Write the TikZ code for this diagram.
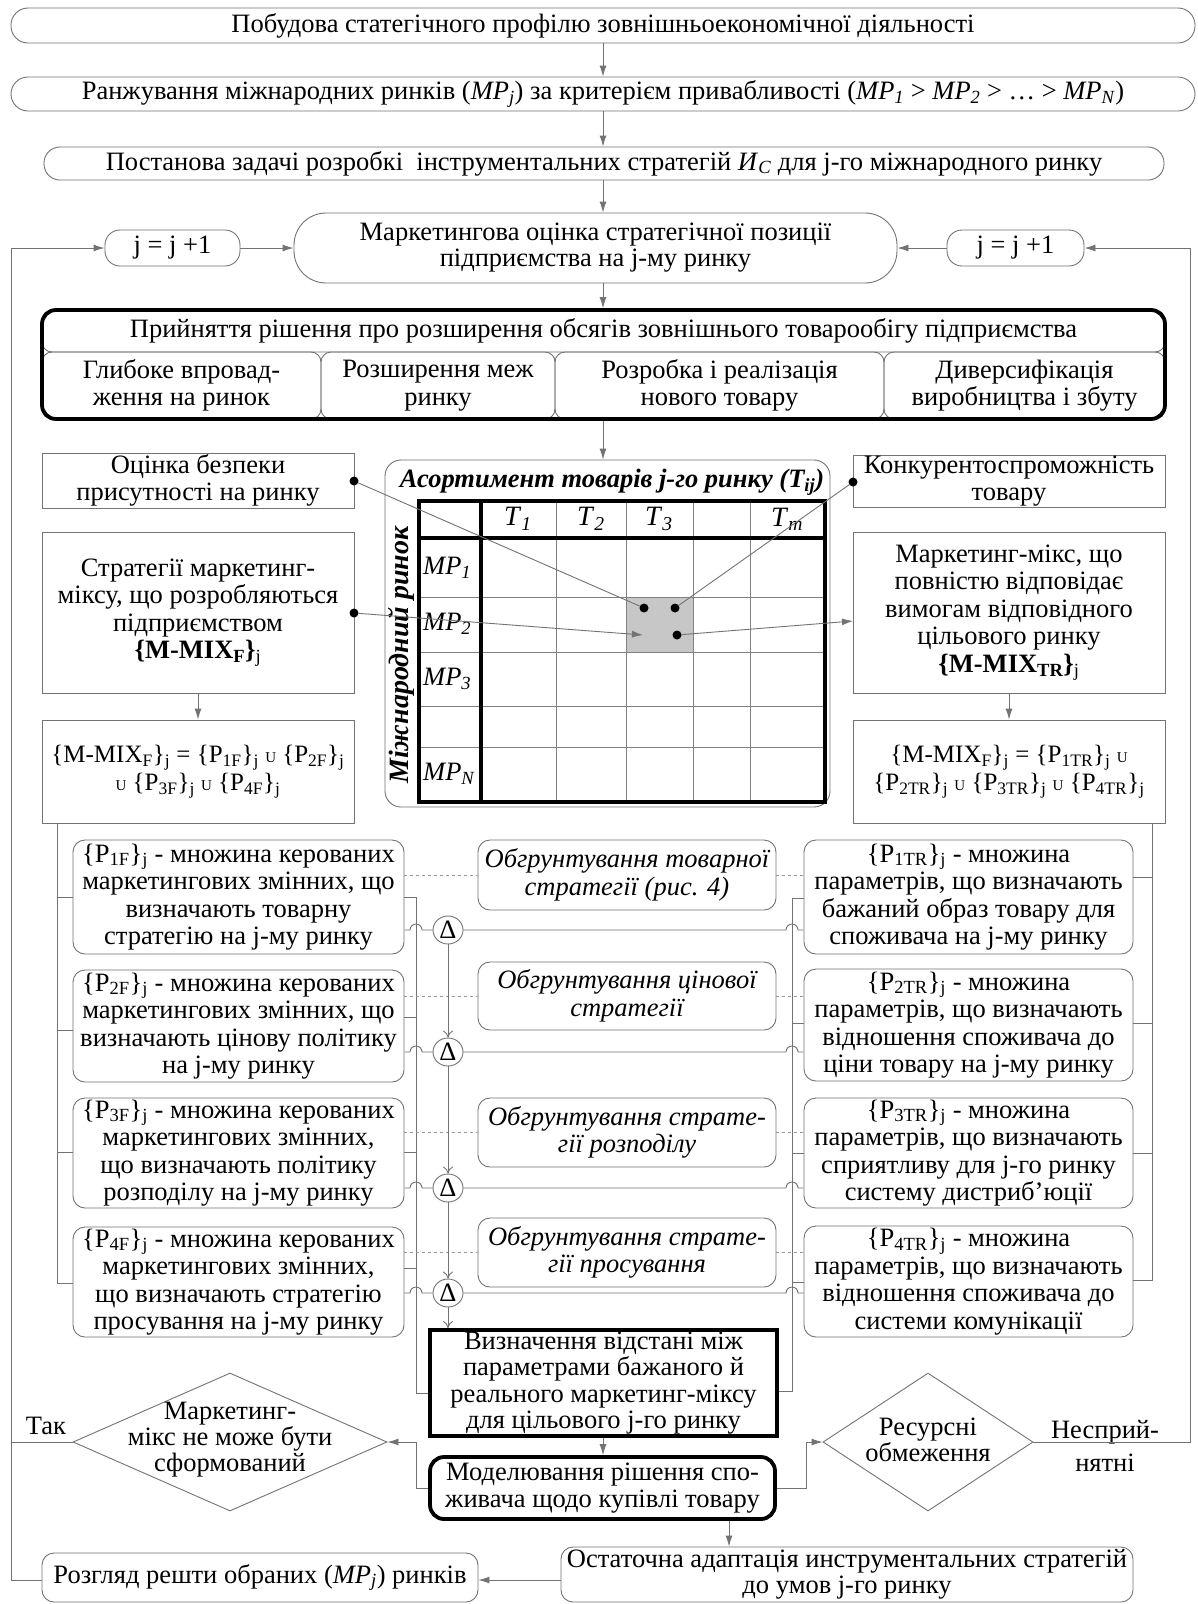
\documentclass[tikz,border=0pt]{standalone}
\usepackage{fontspec}
\setmainfont{Liberation Serif}
\usetikzlibrary{arrows.meta,shapes.geometric}
\newcommand\myU{{\fontsize{15}{15}\selectfont U}}
\newcommand\ts[1]{\textsubscript{#1}}
\newcommand\fsz{\fontsize{26.5}{27.5}\selectfont}
\begin{document}
\begin{tikzpicture}[x=1pt,y=-1pt,
  every node/.style={font=\fsz, align=center, inner sep=0pt},
  gl/.style={draw=black!55, line width=0.9pt},
  arr/.style={gl, -{Latex[length=11pt,width=7pt]}},
  varr/.style={gl, -{To[length=7pt,width=10pt]}},
  pbox/.style={gl, rounded corners=12pt},
  sbox/.style={gl},
  thickbox/.style={draw=black, line width=3.8pt},
  dot/.style={circle, fill=black, minimum size=9pt},
  dlt/.style={gl, ellipse, minimum width=30pt, minimum height=28pt},
  dia/.style={gl, diamond, minimum width=#1, minimum height=138pt},
  itx/.style={font=\fsz\itshape}
]
\fill[white] (0,0) rectangle (1197,1604);
\useasboundingbox (0,0) rectangle (1197,1604);

% top chain
\node[gl, rounded corners=17pt, minimum width=1184pt, minimum height=35pt] (n1) at (603,25.5)
  {Побудова статегічного профілю зовнішньоекономічної діяльності};
\node[gl, rounded corners=17pt, minimum width=1184pt, minimum height=34pt] (n2) at (603,94)
  {Ранжування міжнародних ринків (\textit{MP}\ts{\textit{j}}) за критерієм привабливості (\textit{MP}\ts{\textit{1}} > \textit{MP}\ts{\textit{2}} > \ldots{} > \textit{MP}\ts{\textit{N}})};
\node[gl, rounded corners=16pt, minimum width=1120pt, minimum height=33pt] (n3) at (604,163.5)
  {Постанова задачі розробкі\ \ інструментальних стратегій \textit{И}\ts{\textit{C}} для j-го міжнародного ринку};
\node[gl, rounded corners=32pt, minimum width=603pt, minimum height=70pt, font=\fontsize{26.5}{26}\selectfont] (n4) at (595.5,248)
  {Маркетингова оцінка стратегічної позиції\\підприємства на j-му ринку};
\node[gl, rounded corners=15pt, minimum width=135pt, minimum height=36pt] (jl) at (172.5,248) {j = j +1};
\node[gl, rounded corners=15pt, minimum width=137pt, minimum height=36pt] (jr) at (1015.5,248) {j = j +1};

% decision block
\node[gl, rounded corners=10pt, minimum width=1123pt, minimum height=42pt] (n5t) at (603.5,331)
  {Прийняття рішення про розширення обсягів зовнішнього товарообігу підприємства};
\node[gl, rounded corners=10pt, minimum width=279pt, minimum height=67pt] (s1) at (181.5,385.5) {Глибоке впровад-\\ження на ринок};
\node[gl, rounded corners=10pt, minimum width=234pt, minimum height=67pt] (s2) at (438,385.5) {Розширення меж\\ринку};
\node[gl, rounded corners=10pt, minimum width=329pt, minimum height=67pt] (s3) at (719.5,385.5) {Розробка і реалізація\\нового товару};
\node[gl, rounded corners=10pt, minimum width=281pt, minimum height=67pt] (s4) at (1024.5,385.5) {Диверсифікація\\виробництва і збуту};
\node[thickbox, rounded corners=14pt, minimum width=1123pt, minimum height=109pt] (n5) at (603.5,364.5) {};

% grid
\node[gl, rounded corners=16pt, minimum width=445pt, minimum height=347pt] (gf) at (607.5,633.5) {};
\node[font=\fsz\bfseries\itshape] (gt) at (612,482) {Асортимент товарів j-го ринку (T\ts{ij})};
\fill[black!22] (626,597) rectangle (693,652);
\draw[black!50, line width=0.8pt] (556,501)--(556,802) (626,501)--(626,802) (693,501)--(693,802) (750,501)--(750,802)
  (419,597)--(825,597) (419,652)--(825,652) (419,706)--(825,706) (419,747)--(825,747);
\draw[line width=3.8pt] (419,501) rectangle (825,802) (481,501)--(481,802) (419,538)--(825,538);
\node[font=\fontsize{28}{28}\selectfont\bfseries\itshape, rotate=90] (vl) at (401,655) {Міжнародний ринок};
\node[font=\fontsize{28}{28}\selectfont] (t1) at (518,519) {\textit{T}\ts{\textit{1}}};
\node[font=\fontsize{28}{28}\selectfont] (t2) at (591,519) {\textit{T}\ts{\textit{2}}};
\node[font=\fontsize{28}{28}\selectfont] (t3) at (659,519) {\textit{T}\ts{\textit{3}}};
\node[font=\fontsize{28}{28}\selectfont] (tm) at (787,519) {\textit{T}\ts{\textit{m}}};
\node[anchor=west] (r1) at (423,568) {\textit{MP}\ts{\textit{1}}};
\node[anchor=west] (r2) at (423,624) {\textit{MP}\ts{\textit{2}}};
\node[anchor=west] (r3) at (423,679) {\textit{MP}\ts{\textit{3}}};
\node[anchor=west] (rn) at (423,774) {\textit{MP}\ts{\textit{N}}};
\node[dot] (c1) at (644,608) {};
\node[dot] (c2) at (675,608) {};
\node[dot] (c4) at (677,635) {};
\coordinate (c3) at (643,635);

% left column
\node[sbox, minimum width=312pt, minimum height=55pt] (ob) at (198,480.5) {Оцінка безпеки\\присутності на ринку};
\node[sbox, minimum width=312pt, minimum height=161pt] (sm) at (198,612.5)
  {Стратегії маркетинг-\\міксу, що розробляються\\підприємством\\\textbf{\{M-MIX\ts{F}\}}\ts{j}};
\node[sbox, minimum width=312pt, minimum height=103pt, font=\fontsize{25}{28}\selectfont] (mixf) at (198,771.5)
  {\{M-MIX\ts{F}\}\ts{j} = \{P\ts{1F}\}\ts{j} \myU{} \{P\ts{2F}\}\ts{j}\\\myU{} \{P\ts{3F}\}\ts{j} \myU{} \{P\ts{4F}\}\ts{j}};
\node[dot] (obd) at (354,481) {};
\node[dot] (smd) at (354,613) {};

% right column
\node[sbox, minimum width=312pt, minimum height=52pt] (konk) at (1009,481) {Конкурентоспроможність\\товару};
\node[sbox, minimum width=312pt, minimum height=161pt] (mm) at (1009,612.5)
  {Маркетинг-мікс, що\\повністю відповідає\\вимогам відповідного\\цільового ринку\\\textbf{\{M-MIX\ts{TR}\}}\ts{j}};
\node[sbox, minimum width=312pt, minimum height=103pt, font=\fontsize{25}{28}\selectfont] (mixtr) at (1009,771.5)
  {\{M-MIX\ts{F}\}\ts{j} = \{P\ts{1TR}\}\ts{j} \myU\\\{P\ts{2TR}\}\ts{j} \myU{} \{P\ts{3TR}\}\ts{j} \myU{} \{P\ts{4TR}\}\ts{j}};
\node[dot] (kd) at (853,482) {};
\coordinate (mmin) at (853,621);

% P boxes
\node[pbox, minimum width=331pt, minimum height=114pt] (p1f) at (238.5,897)
  {\{P\ts{1F}\}\ts{j} - множина керованих\\маркетингових змінних, що\\визначають товарну\\стратегію на j-му ринку};
\node[pbox, minimum width=331pt, minimum height=112pt] (p2f) at (238.5,1026)
  {\{P\ts{2F}\}\ts{j} - множина керованих\\маркетингових змінних, що\\визначають цінову політику\\на j-му ринку};
\node[pbox, minimum width=331pt, minimum height=110pt] (p3f) at (238.5,1153)
  {\{P\ts{3F}\}\ts{j} - множина керованих\\маркетингових змінних,\\що визначають політику\\розподілу на j-му ринку};
\node[pbox, minimum width=331pt, minimum height=110pt] (p4f) at (238.5,1282)
  {\{P\ts{4F}\}\ts{j} - множина керованих\\маркетингових змінних,\\що визначають стратегію\\просування на j-му ринку};

\node[pbox, minimum width=329pt, minimum height=114pt] (p1t) at (968.5,897)
  {\{P\ts{1TR}\}\ts{j} - множина\\параметрів, що визначають\\бажаний образ товару для\\споживача на j-му ринку};
\node[pbox, minimum width=329pt, minimum height=112pt] (p2t) at (968.5,1025)
  {\{P\ts{2TR}\}\ts{j} - множина\\параметрів, що визначають\\відношення споживача до\\ціни товару на j-му ринку};
\node[pbox, minimum width=329pt, minimum height=110pt] (p3t) at (968.5,1153)
  {\{P\ts{3TR}\}\ts{j} - множина\\параметрів, що визначають\\сприятливу для j-го ринку\\систему дистриб’юції};
\node[pbox, minimum width=329pt, minimum height=111pt] (p4t) at (968.5,1281.5)
  {\{P\ts{4TR}\}\ts{j} - множина\\параметрів, що визначають\\відношення споживача до\\системи комунікації};

\node[pbox, itx, minimum width=298pt, minimum height=70pt] (m1) at (627,875) {Обгрунтування товарної\\стратегії (рис. 4)};
\node[pbox, itx, minimum width=298pt, minimum height=68pt] (m2) at (627,996) {Обгрунтування цінової\\стратегії};
\node[pbox, itx, minimum width=298pt, minimum height=69pt] (m3) at (627,1132.5) {Обгрунтування страте-\\гії розподілу};
\node[pbox, itx, minimum width=298pt, minimum height=69pt] (m4) at (627,1252.5) {Обгрунтування страте-\\гії просування};

\node[dlt] (d1) at (448,930) {Δ};
\node[dlt] (d2) at (448,1052) {Δ};
\node[dlt] (d3) at (448,1188) {Δ};
\node[dlt] (d4) at (448,1293) {Δ};

% bottom part
\node[thickbox, minimum width=347pt, minimum height=106pt, font=\fontsize{26.5}{26.5}\selectfont] (viz) at (603.5,1383)
  {Визначення відстані між\\параметрами бажаного й\\реального маркетинг-міксу\\для цільового j-го ринку};
\node[thickbox, rounded corners=14pt, minimum width=345pt, minimum height=62pt, font=\fontsize{26.5}{26.5}\selectfont] (mod) at (602.5,1488)
  {Моделювання рішення спо-\\живача щодо купівлі товару};
\node[dia=314pt] (dd1) at (230,1442) {};
\node[font=\fontsize{26.5}{26}\selectfont] (dd1t) at (230,1440) {Маркетинг-\\мікс не може бути\\сформований};
\node[dia=210pt] (dd2) at (928,1442) {};
\node[font=\fontsize{26.5}{26}\selectfont] (dd2t) at (928,1440) {Ресурсні\\обмеження};
\node (tak) at (46,1426) {Так};
\node (nes) at (1105,1446) {Несприй-\\[6pt]нятні};
\node[gl, rounded corners=12pt, minimum width=572pt, minimum height=55pt, font=\fontsize{26.5}{26.5}\selectfont] (ost) at (847,1574.5)
  {Остаточна адаптація инструментальних стратегій\\до умов j-го ринку};
\node[gl, rounded corners=12pt, minimum width=436pt, minimum height=49pt] (roz) at (260,1577.5)
  {Розгляд решти обраних (\textit{MP}\ts{\textit{j}}) ринків};

% ---- connectors ----
\draw[arr] (n1.south -| 603,0) -- (n2.north -| 603,0);
\draw[arr] (n2.south -| 603,0) -- (n3.north -| 603,0);
\draw[arr] (n3.south -| 603,0) -- (n4.north -| 603,0);
\draw[arr] (n4.south -| 603,0) -- (n5.north -| 603,0);
\draw[arr] (n5.south -| 603,0) -- (gf.north -| 603,0);
\draw[arr] (jl.east) -- (n4.west);
\draw[arr] (jr.west) -- (n4.east);

\draw[gl] (obd) -- (c1);
\draw[gl] (kd) -- (c2);
\draw[arr] (smd) -- (c3);
\draw[arr] (c4) -- (mmin);
\draw[arr] (sm.south) -- (mixf.north);
\draw[arr] (mm.south) -- (mixtr.north);

% outer left / right buses
\draw[gl] (mixf.south -| 57,0) -- (57,1283) -- (p4f.west |- 0,1283);
\draw[gl] (57,897) -- (p1f.west |- 0,897);
\draw[gl] (57,1030) -- (p2f.west |- 0,1030);
\draw[gl] (57,1152) -- (p3f.west |- 0,1152);
\draw[gl] (mixtr.south -| 1152,0) -- (1152,1280) -- (p4t.east |- 0,1280);
\draw[gl] (1152,877) -- (p1t.east |- 0,877);
\draw[gl] (1152,1023) -- (p2t.east |- 0,1023);
\draw[gl] (1152,1153) -- (p3t.east |- 0,1153);

% inner buses
\draw[gl] (p1f.east |- 0,897) -- (416,897) -- (416,1393) -- (viz.west |- 0,1393);
\draw[gl] (p2f.east |- 0,1017) -- (416,1017);
\draw[gl] (p3f.east |- 0,1152) -- (416,1152);
\draw[gl] (p4f.east |- 0,1268) -- (416,1268);
\draw[gl] (p1t.west |- 0,898) -- (792,898) -- (792,1391) -- (viz.east |- 0,1391);
\draw[gl] (p2t.west |- 0,1023) -- (792,1023);
\draw[gl] (p3t.west |- 0,1153) -- (792,1153);
\draw[gl] (p4t.west |- 0,1282) -- (792,1282);

% delta lines with hops
\foreach \d/\l/\r in {d1/p1f/p1t, d2/p2f/p2t, d3/p3f/p3t, d4/p4f/p4t}{
  \draw[gl] (\l.east |- \d) -- ([xshift=-6pt]416,0 |- \d) arc[start angle=180,end angle=0,radius=6pt] -- (\d.west);
  \draw[gl] (\d.east) -- ([xshift=-6pt]792,0 |- \d) arc[start angle=180,end angle=0,radius=6pt] -- (\r.west |- \d);
}
% dashed links
\foreach \l/\m/\r in {p1f/m1/p1t, p2f/m2/p2t, p3f/m3/p3t, p4f/m4/p4t}{
  \draw[gl, dashed, draw=black!40] (\l.east |- \m.west) -- (\m.west);
  \draw[gl, dashed, draw=black!40] (\m.east) -- (\r.west |- \m.east);
}
\draw[varr] (d1) -- (d2);
\draw[varr] (d2) -- (d3);
\draw[varr] (d3) -- (d4);
\draw[varr] (d4) -- (viz.north -| d4);

\draw[arr] (viz.south -| 603,0) -- (mod.north -| 603,0);
\draw[arr] (mod.west) -| (416,1442) -- (dd1.east);
\draw[arr] (mod.east) -| (806,1442) -- (dd2.west);
\draw[arr] (mod.south -| 729,0) -- (ost.north -| 729,0);
\draw[arr] (ost.west |- 0,1580) -- (roz.east |- 0,1580);
\draw[arr] (roz.west |- 0,1580) -- (11,1580) -- (11,248) -- (jl.west);
\draw[gl] (dd1.west) -- (11,1442);
\draw[arr] (dd2.east) -- (1190,1442) -- (1190,248) -- (jr.east);
\end{tikzpicture}
\end{document}
